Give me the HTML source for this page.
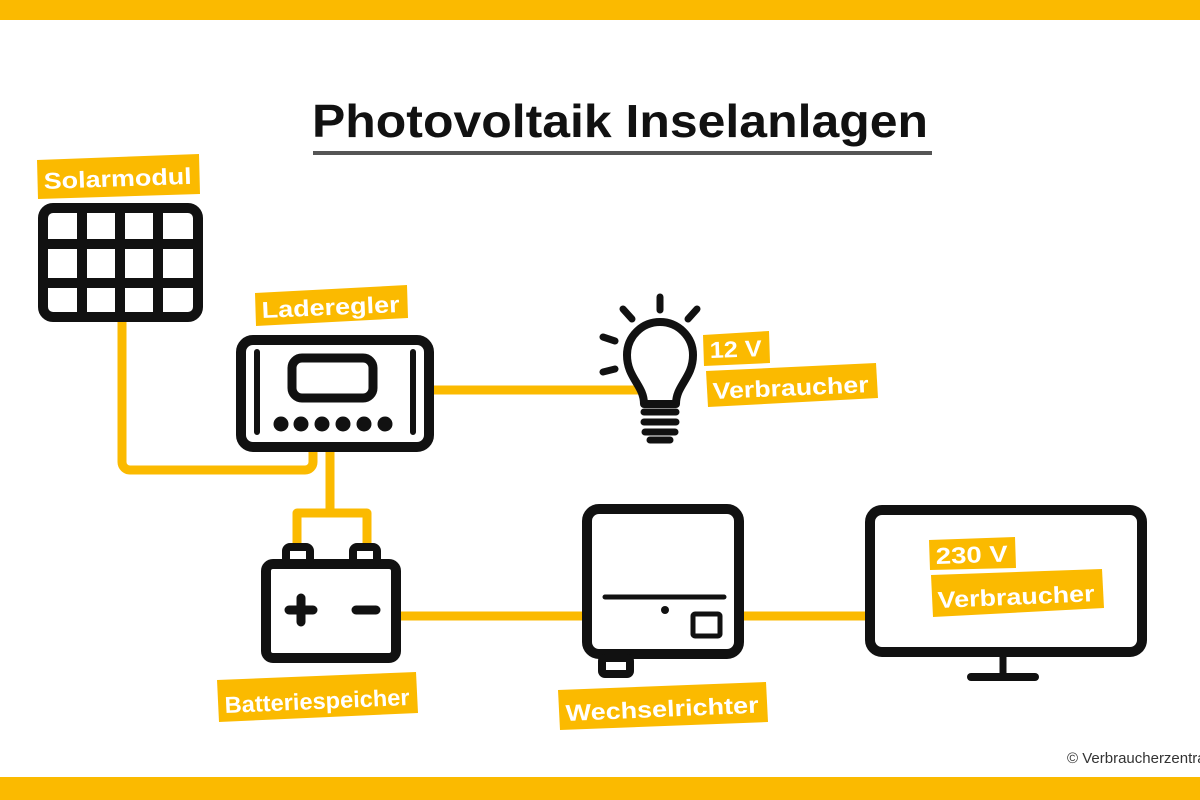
<!DOCTYPE html>
<html><head><meta charset="utf-8"><style>
html,body{margin:0;padding:0;background:#fff;}
svg{display:block;}
text{font-family:"Liberation Sans",sans-serif;font-weight:bold;}
</style></head><body>
<svg width="1200" height="800" viewBox="0 0 1200 800" xmlns="http://www.w3.org/2000/svg">
<rect x="0" y="0" width="1200" height="20" fill="#fbba00"/>
<rect x="0" y="777" width="1200" height="23" fill="#fbba00"/>
<text x="312" y="137" font-size="46" fill="#111" textLength="616" lengthAdjust="spacingAndGlyphs">Photovoltaik Inselanlagen</text>
<rect x="313" y="151" width="619" height="4" fill="#555"/>

<g fill="none" stroke="#fbba00" stroke-width="9" stroke-linejoin="round">
<path d="M122 322 V462 a8 8 0 0 0 8 8 H305 a8 8 0 0 0 8 -8 V452"/>
<path d="M330 452 V513 M297 543 V513 H367 V543"/>
<path d="M434 390 H640"/>
<path d="M400 616 H583"/>
<path d="M743 616 H866"/>
</g>

<g fill="none" stroke="#111" stroke-width="10">
<rect x="43" y="208" width="155" height="109" rx="10"/>
<path d="M82 208V317M120 208V317M158 208V317M43 244H198M43 283H198"/>
<rect x="241" y="340" width="188" height="107" rx="12"/>
<rect x="292" y="358" width="81" height="40" rx="10" stroke-width="9"/>
<path d="M257 352V432M413 352V432" stroke-width="6" stroke-linecap="round"/>
<rect x="266" y="564" width="130" height="94" rx="7"/>
<rect x="286" y="547" width="24" height="17" rx="4" stroke-width="8"/>
<rect x="353" y="547" width="24" height="17" rx="4" stroke-width="8"/>
<path d="M301 598V622M289 610H313M356 610H376" stroke-width="9" stroke-linecap="round"/>
<rect x="587" y="509" width="152" height="145" rx="12"/>
<rect x="602" y="658" width="28" height="16" rx="3" stroke-width="8"/>
<path d="M605 597H724" stroke-width="5" stroke-linecap="round"/>
<rect x="693" y="614" width="27" height="22" rx="2" stroke-width="5"/>
<rect x="870" y="510" width="272" height="142" rx="12"/>
<path d="M1003 655V675" stroke-width="7"/>
<path d="M971 677H1035" stroke-width="8" stroke-linecap="round"/>
<path d="M644 404 C644 385 627 378 627 355 A33 33 0 0 1 693 355 C693 378 676 385 676 404 Z" stroke-width="8" stroke-linejoin="round"/>
<path d="M644 412H676M644 422H676M645 432H675M650 440H670" stroke-width="7" stroke-linecap="round"/>
<path d="M660 297V310M623 309L632 319M697 309L688 319M603 337L615 341M603 372L615 369" stroke-width="7" stroke-linecap="round"/>
</g>
<circle cx="665" cy="610" r="4" fill="#111"/>
<g fill="#111">
<circle cx="281" cy="424" r="7.5"/><circle cx="301" cy="424" r="7.5"/><circle cx="322" cy="424" r="7.5"/><circle cx="343" cy="424" r="7.5"/><circle cx="364" cy="424" r="7.5"/><circle cx="385" cy="424" r="7.5"/>
</g>

<g fill="#fbba00">
<polygon points="37,160 199,154 200,194 38,199"/>
<polygon points="255,293 407,285 408,318 256,326"/>
<polygon points="703,335 769,331 770,363 704,366"/>
<polygon points="706,371 876,363 878,398 708,407"/>
<polygon points="217,680 416,672 418,713 219,722"/>
<polygon points="558,690 766,682 768,722 560,730"/>
<polygon points="929,540 1015,537 1016,568 930,570"/>
<polygon points="931,575 1102,569 1104,608 933,617"/>
</g>
<g fill="#fff" font-size="23">
<text x="44" y="189" transform="rotate(-2 44 189)" textLength="148" lengthAdjust="spacingAndGlyphs">Solarmodul</text>
<text x="262" y="318" transform="rotate(-2.5 262 318)" textLength="138" lengthAdjust="spacingAndGlyphs">Laderegler</text>
<text x="710" y="358" transform="rotate(-2 710 358)" textLength="52" lengthAdjust="spacingAndGlyphs">12 V</text>
<text x="713" y="399" transform="rotate(-2.5 713 399)" textLength="156" lengthAdjust="spacingAndGlyphs">Verbraucher</text>
<text x="225" y="713" transform="rotate(-2.5 225 713)" textLength="185" lengthAdjust="spacingAndGlyphs">Batteriespeicher</text>
<text x="566" y="721" transform="rotate(-2.5 566 721)" textLength="193" lengthAdjust="spacingAndGlyphs">Wechselrichter</text>
<text x="936" y="564" transform="rotate(-2 936 564)" textLength="72" lengthAdjust="spacingAndGlyphs">230 V</text>
<text x="938" y="608" transform="rotate(-2.5 938 608)" textLength="157" lengthAdjust="spacingAndGlyphs">Verbraucher</text>
</g>
<text x="1067" y="763" font-size="15" style="font-weight:normal" fill="#333">© Verbraucherzentrale</text>
</svg>
</body></html>
